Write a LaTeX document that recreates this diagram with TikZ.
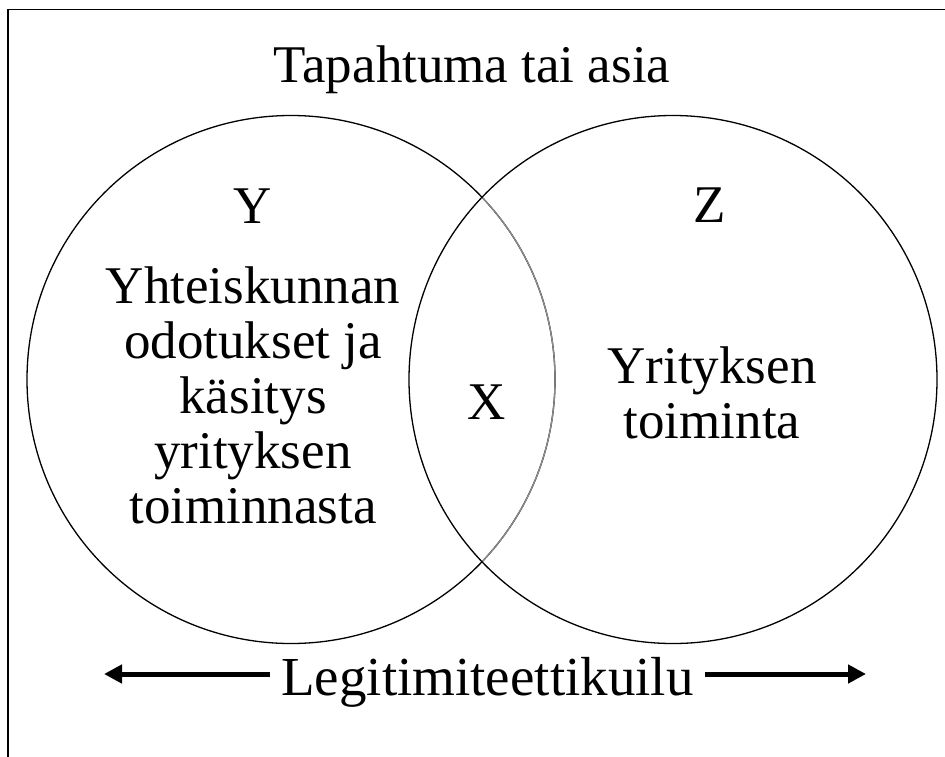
\documentclass[tikz,border=0pt]{standalone}
\usepackage{fontspec}
\setmainfont{Liberation Serif}
\usetikzlibrary{arrows.meta}
\tikzset{
  lbl/.style={font=\fontsize{53}{55}\selectfont, inner sep=0pt, anchor=base},
  ring/.style={draw=black, line width=1.3pt},
  arr/.style={line width=5pt, -{Triangle[length=18pt,width=18pt]}},
}
\begin{document}
\begin{tikzpicture}[x=1pt,y=-1pt]
\useasboundingbox (0,0) rectangle (945,756);
\clip (0,0) rectangle (945,756);
\draw[line width=1.3pt] (8,9.5) rectangle (980,790);
% circles
\coordinate (cl) at (291,379.5);
\coordinate (cr) at (673,379.5);
\draw[ring] (cl) circle[radius=264];
\begin{scope}
  \clip (cr) circle[radius=264];
  \draw[ring, draw=black!45] (cl) circle[radius=264];
\end{scope}
\draw[ring] (cr) circle[radius=264];
% texts
\node[lbl] (title) at (472,82) {Tapahtuma tai asia};
\node[lbl] (y) at (253,223) {Y};
\node[lbl] (z) at (710,222) {Z};
\node[lbl] (l1) at (253,303) {Yhteiskunnan};
\node[lbl] (l2) at (253,358) {odotukset ja};
\node[lbl] (l3) at (253,413) {käsitys};
\node[lbl] (l4) at (253,468) {yrityksen};
\node[lbl] (l5) at (253,523) {toiminnasta};
\node[lbl] (x) at (487,419) {X};
\node[lbl] (r1) at (712,383) {Yrityksen};
\node[lbl] (r2) at (712,438) {toiminta};
\node[lbl, font=\fontsize{55}{57}\selectfont, anchor=base west, inner xsep=11pt] (leg) at (270,695) {Legitimiteettikuilu};
\coordinate (la) at (104,674);
\coordinate (ra) at (866,674);
\draw[arr] (leg.west |- la) -- (la);
\draw[arr] (leg.east |- ra) -- (ra);
\end{tikzpicture}
\end{document}
